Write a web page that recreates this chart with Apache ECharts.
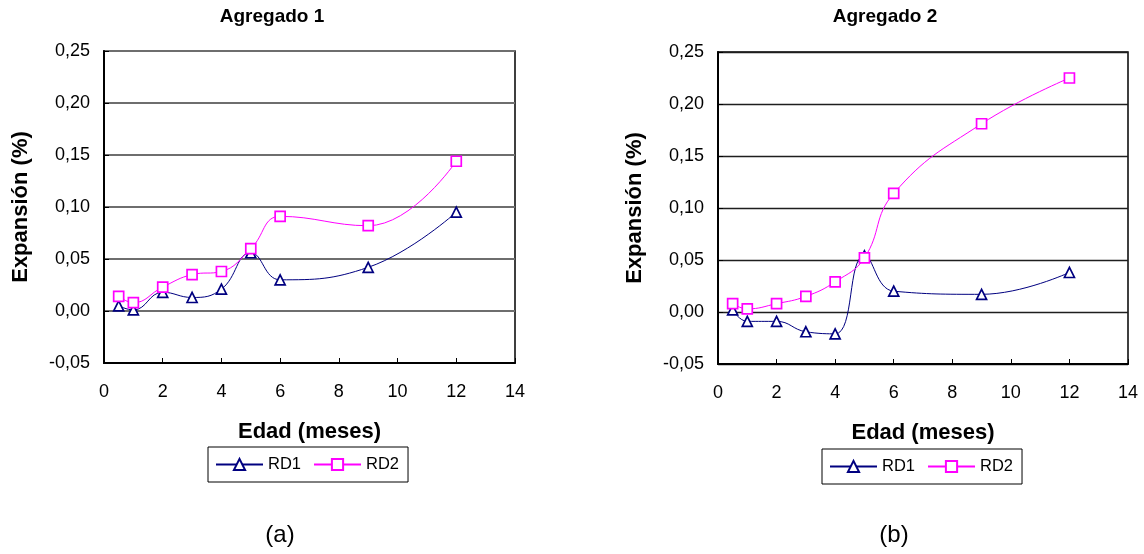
<!DOCTYPE html>
<html>
<head>
<meta charset="utf-8">
<script src="https://cdn.jsdelivr.net/npm/echarts@6/dist/echarts.min.js"></script>
<style>
html,body{margin:0;padding:0;background:#fff;}
#chart{width:1144px;height:554px;}
</style>
</head>
<body>
<div id="chart"></div>
<script>
// ---- data ----
const edad = [0.5, 1, 2, 3, 4, 5, 6, 9, 12];
const ag1_RD1 = [0.005, 0.001, 0.018, 0.013, 0.021, 0.056, 0.030, 0.042, 0.095];
const ag1_RD2 = [0.014, 0.008, 0.023, 0.035, 0.038, 0.060, 0.091, 0.082, 0.144];
const ag2_RD1 = [0.002, -0.009, -0.009, -0.019, -0.021, 0.054, 0.020, 0.017, 0.038];
const ag2_RD2 = [0.008, 0.003, 0.008, 0.015, 0.029, 0.052, 0.114, 0.181, 0.225];
const yTickLabels = ['-0,05', '0,00', '0,05', '0,10', '0,15', '0,20', '0,25'];
const xTickLabels = ['0', '2', '4', '6', '8', '10', '12', '14'];
const seriesNames = ['RD1', 'RD2'];
const chartTitles = ['Agregado 1', 'Agregado 2'];
const panelLabels = ['(a)', '(b)'];
const xName = 'Edad (meses)';
const yName = 'Expansión (%)';

const FONT = "'Liberation Sans', Arial, sans-serif";
const C1 = '#000080', C2 = '#ff00ff';
const YMIN = -0.05, YSTEP = 0.05;

function pairs(xs, ys) { return xs.map((x, i) => [x, ys[i]]); }

function xAxisCfg(gi) {
  return {
    type: 'value', gridIndex: gi, min: 0, max: 14, interval: 2,
    name: xName, nameLocation: 'middle', nameGap: 58,
    nameTextStyle: { fontFamily: FONT, fontSize: 22, fontWeight: 'bold', color: '#000' },
    axisLine: { show: true, onZero: false, lineStyle: { color: '#000', width: 2 } },
    axisTick: { show: true, inside: true, length: 5, lineStyle: { color: '#000', width: 1 } },
    axisLabel: { fontFamily: FONT, fontSize: 18, color: '#000', margin: 20,
      formatter: v => xTickLabels[Math.round(v / 2)] },
    splitLine: { show: false }
  };
}
function yAxisCfg(gi, gridColor, gridWidth) {
  return {
    type: 'value', gridIndex: gi, min: YMIN, max: 0.25, interval: YSTEP,
    name: yName, nameLocation: 'middle', nameGap: 72, nameRotate: 90,
    nameTextStyle: { fontFamily: FONT, fontSize: 22, fontWeight: 'bold', color: '#000' },
    axisLine: { show: true, onZero: false, lineStyle: { color: '#000', width: 2 } },
    axisTick: { show: true, inside: true, length: 5, lineStyle: { color: '#000', width: 1 } },
    axisLabel: { fontFamily: FONT, fontSize: 18, color: '#000', margin: 14,
      formatter: v => yTickLabels[Math.round((v - YMIN) / YSTEP)] },
    splitLine: { show: true, lineStyle: { color: gridColor, width: gridWidth } }
  };
}
function lineSeries(name, gi, data, color, symbol) {
  return {
    name: name, type: 'line', xAxisIndex: gi, yAxisIndex: gi,
    data: data, smooth: 0.45, symbol: symbol, symbolSize: 10, showSymbol: true,
    lineStyle: { color: color, width: 1 },
    itemStyle: { color: '#fff', borderColor: color, borderWidth: 1.7 },
    emphasis: { disabled: true }, animation: false
  };
}
function legendCfg(left, top) {
  return {
    data: seriesNames, left: left, top: top, orient: 'horizontal',
    itemWidth: 47, itemHeight: 14, itemGap: 12,
    padding: [9, 9, 9, 7],
    borderColor: '#000', borderWidth: 1, backgroundColor: '#fff',
    textStyle: { fontFamily: FONT, fontSize: 16.5, color: '#000' },
    selectedMode: false
  };
}
function textEl(x, y, text, size, weight) {
  return { type: 'text', x: x, y: y,
    style: { text: text, fontFamily: FONT, fontSize: size, fontWeight: weight,
      fill: '#000', textAlign: 'center', textVerticalAlign: 'middle' } };
}

const option = {
  backgroundColor: '#fff',
  animation: false,
  grid: [
    { left: 104, top: 51, width: 411, height: 312, show: true, borderColor: '#000', borderWidth: 1.5, backgroundColor: 'transparent' },
    { left: 718, top: 52, width: 410, height: 312, show: true, borderColor: '#000', borderWidth: 1.5, backgroundColor: 'transparent' }
  ],
  xAxis: [xAxisCfg(0), xAxisCfg(1)],
  yAxis: [yAxisCfg(0, '#6e6e6e', 2), yAxisCfg(1, '#1e1e1e', 1.3)],
  legend: [legendCfg(208, 447), legendCfg(822, 449)],
  series: [
    lineSeries(seriesNames[0], 0, pairs(edad, ag1_RD1), C1, 'triangle'),
    lineSeries(seriesNames[1], 0, pairs(edad, ag1_RD2), C2, 'rect'),
    lineSeries(seriesNames[0], 1, pairs(edad, ag2_RD1), C1, 'triangle'),
    lineSeries(seriesNames[1], 1, pairs(edad, ag2_RD2), C2, 'rect')
  ],
  graphic: [
    textEl(272, 17, chartTitles[0], 19, 'bold'),
    textEl(885, 17, chartTitles[1], 19, 'bold'),
    textEl(280, 535, panelLabels[0], 24, 'normal'),
    textEl(894, 535, panelLabels[1], 24, 'normal')
  ]
};

const chart = echarts.init(document.getElementById('chart'), null, { renderer: 'canvas' });
chart.setOption(option);
</script>
</body>
</html>
